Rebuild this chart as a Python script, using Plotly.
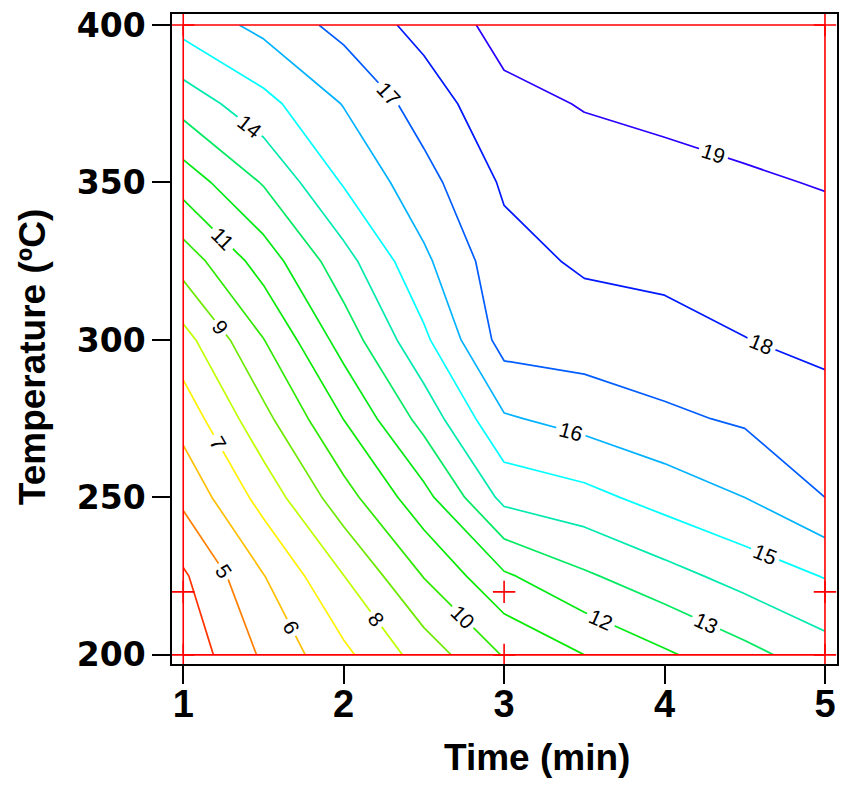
import colorsys
import plotly.graph_objects as go

# ---- data ----
time_min = [1.0, 1.5, 2.0, 2.5, 3.0, 3.5, 4.0, 4.5, 5.0]
temp_c = [200, 225, 250, 275, 300, 325, 350, 375, 400]

z_200 = [3.3, 5.16, 6.77, 8.45, 10.07, 11.0, 11.85, 12.69, 13.55]
z_225 = [3.85, 5.96, 7.98, 10.04, 11.85, 12.85, 13.63, 14.38, 15.05]
z_250 = [5.23, 7.38, 9.6, 11.67, 14.28, 14.69, 15.39, 16.0, 17.0]
z_275 = [6.39, 8.71, 11.02, 13.37, 15.89, 16.35, 16.81, 17.14, 17.62]
z_300 = [7.63, 9.97, 12.43, 14.79, 17.4, 17.5, 17.67, 17.98, 18.23]
z_325 = [9.44, 11.45, 13.62, 15.8, 17.66, 18.14, 18.25, 18.43, 18.61]
z_350 = [11.43, 13.08, 15.09, 16.65, 18.14, 18.59, 18.73, 18.89, 19.05]
z_375 = [13.40, 14.68, 16.05, 17.46, 18.74, 19.05, 19.2, 19.35, 19.45]
z_400 = [15.35, 16.28, 17.32, 18.34, 19.35, 19.5, 19.65, 19.75, 19.85]

design_time = [1, 1, 1, 3, 3, 5, 5, 5]
design_temp = [200, 220, 400, 200, 220, 200, 220, 400]

x_ticks = [1, 2, 3, 4, 5]
y_ticks = [200, 250, 300, 350, 400]

levels = list(range(4, 20))
level_hues = [12, 30, 45, 57, 75, 92, 108, 118, 125, 145, 165, 180, 198, 218, 234, 250]

z_grid = [z_200, z_225, z_250, z_275, z_300, z_325, z_350, z_375, z_400]

colorscale = []
for lv, h in zip(levels, level_hues):
    v = 0.92 if 9 <= lv <= 14 else 1.0
    r, g, b = colorsys.hsv_to_rgb(h / 360.0, 1.0, v)
    colorscale.append([(lv - levels[0]) / (levels[-1] - levels[0]),
                       f"rgb({int(r*255)},{int(g*255)},{int(b*255)})"])

fig = go.Figure()
fig.add_trace(go.Contour(
    x=time_min, y=temp_c, z=z_grid,
    autocontour=False,
    contours=dict(start=4, end=19, size=1, coloring="lines", showlabels=True,
                  labelfont=dict(size=21, color="black", family="Liberation Sans, Arial")),
    colorscale=colorscale, zmin=4, zmax=19, zauto=False,
    line=dict(width=1.7, smoothing=0),
    showscale=False, hoverinfo="skip",
))

fig.add_shape(type="rect", x0=1, x1=5, y0=200, y1=400, xref="x", yref="y",
              line=dict(color="red", width=1.6), layer="above")

fig.add_trace(go.Scatter(
    x=design_time, y=design_temp, mode="markers",
    marker=dict(symbol="cross-thin", size=16, line=dict(color="red", width=1.6)),
    showlegend=False, hoverinfo="skip", cliponaxis=False,
))

axis_common = dict(showgrid=False, zeroline=False, showline=True, mirror=True,
                   linecolor="black", linewidth=1.5, ticks="outside", ticklen=18,
                   tickwidth=1.5, tickcolor="black")

fig.update_layout(
    width=843, height=785,
    margin=dict(l=172, r=4, t=14, b=121),
    paper_bgcolor="white", plot_bgcolor="white",
    showlegend=False,
    xaxis=dict(range=[0.93, 5.075], tickvals=x_ticks,
               ticktext=[f"<b>{v}</b>" for v in x_ticks],
               tickfont=dict(size=38, family="Liberation Sans, Arial", color="black"),
               ticklabelstandoff=-12,
               **axis_common),
    yaxis=dict(range=[197.1, 403.5], tickvals=y_ticks,
               ticktext=[f"<b>{v}</b>" for v in y_ticks],
               tickfont=dict(size=33, family="DejaVu Sans", color="black"),
               **axis_common),
    annotations=[
        dict(text="<b>Time (min)</b>", xref="paper", yref="paper", x=0.549, y=0,
             xanchor="center", yanchor="middle", yshift=-93, showarrow=False,
             font=dict(size=37, family="Liberation Sans, Arial", color="black")),
        dict(text="<b>Temperature (ºC)</b>", xref="paper", yref="paper", x=0, y=0.472,
             xanchor="center", yanchor="middle", xshift=-140, textangle=-90, showarrow=False,
             font=dict(size=37, family="Liberation Sans, Arial", color="black")),
    ],
)

fig.write_html("out.html")
